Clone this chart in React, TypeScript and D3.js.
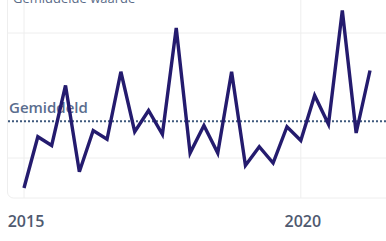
import React, { useEffect, useRef } from 'react';
import * as d3 from 'd3';

// quarterly values, 2015 Q1 .. 2021 Q2
const years = [2015, 2016, 2017, 2018, 2019, 2020, 2021];
const quarters = ['Q1', 'Q2', 'Q3', 'Q4'];
const values = [
  7.6, 11.7, 11.0, 15.8,
  8.9, 12.2, 11.5, 16.9,
  12.1, 13.8, 11.9, 20.4,
  10.4, 12.6, 10.4, 16.9,
  9.4, 10.9, 9.6, 12.5,
  11.4, 15.0, 12.7, 21.8,
  12.0, 17.0,
];
const tickYears = [2015, 2020];
const gridValues = [10, 20];
const meanLabel = 'Gemiddeld';
const titleText = 'Gemiddelde waarde';

const points = values.map((v, i) => ({
  t: years[Math.floor(i / 4)] + quarters.indexOf(quarters[i % 4]) / 4,
  v,
}));

const App = () => {
  const svgRef = useRef<SVGSVGElement>(null);

  useEffect(() => {
    const svg = d3.select(svgRef.current);
    svg.selectAll('*').remove();

    const width = 386;
    const frameBottom = 198;

    const x = d3.scaleLinear().domain([2015, 2021.25]).range([24, 370]);
    const y = d3.scaleLinear().domain([10, 20]).range([158, 33]);

    const mean = d3.mean(values) as number;

    // panel frame
    svg.append('rect')
      .attr('x', 7.5)
      .attr('y', -20)
      .attr('width', width + 20)
      .attr('height', frameBottom + 20)
      .attr('rx', 6)
      .attr('fill', 'none')
      .attr('stroke', '#eeeeee');

    svg.selectAll('.hgrid')
      .data(gridValues)
      .join('line')
      .attr('class', 'hgrid')
      .attr('x1', 8)
      .attr('x2', width)
      .attr('y1', d => y(d))
      .attr('y2', d => y(d))
      .attr('stroke', '#eeeeee');

    svg.selectAll('.vgrid')
      .data(tickYears)
      .join('line')
      .attr('class', 'vgrid')
      .attr('x1', d => x(d))
      .attr('x2', d => x(d))
      .attr('y1', 0)
      .attr('y2', frameBottom)
      .attr('stroke', '#eeeeee');

    // title, cut off at the top like in the source
    svg.append('text')
      .attr('x', 13)
      .attr('y', 3)
      .attr('font-family', 'Open Sans, sans-serif')
      .attr('font-size', 13)
      .attr('fill', '#5a6b88')
      .text(titleText);

    // average line
    svg.append('line')
      .attr('x1', 8)
      .attr('x2', width)
      .attr('y1', y(mean))
      .attr('y2', y(mean))
      .attr('stroke', '#3f5a7e')
      .attr('stroke-width', 2)
      .attr('stroke-dasharray', '2,2');

    svg.append('text')
      .attr('x', 9)
      .attr('y', 113)
      .attr('font-family', 'Open Sans, sans-serif')
      .attr('font-size', 15)
      .attr('font-weight', 600)
      .attr('fill', '#5a6d8e')
      .text(meanLabel);

    const line = d3.line<{ t: number; v: number }>()
      .x(d => x(d.t))
      .y(d => y(d.v));

    svg.append('path')
      .datum(points)
      .attr('d', line)
      .attr('fill', 'none')
      .attr('stroke', '#241b6e')
      .attr('stroke-width', 3.4)
      .attr('stroke-linejoin', 'miter');

    svg.selectAll('.tick-label')
      .data(tickYears)
      .join('text')
      .attr('class', 'tick-label')
      .attr('x', d => x(d) + 2)
      .attr('y', 227)
      .attr('text-anchor', 'middle')
      .attr('font-family', 'Open Sans, sans-serif')
      .attr('font-size', 16)
      .attr('font-weight', 600)
      .attr('fill', '#4f5a70')
      .text(d => String(d));
  }, []);

  return (
    <svg
      ref={svgRef}
      width={386}
      height={241}
      style={{ position: 'fixed', left: 0, top: 0, background: '#fff' }}
    ></svg>
  );
};

export default App;
